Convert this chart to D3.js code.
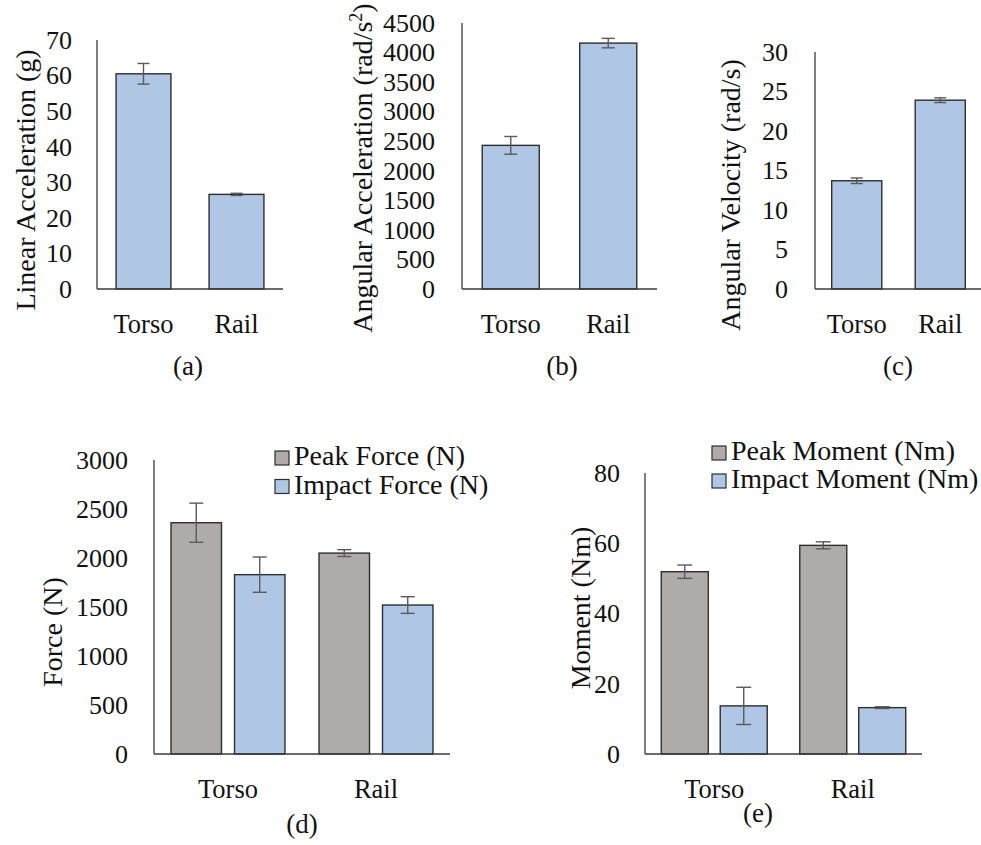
<!DOCTYPE html>
<html>
<head>
<meta charset="utf-8">
<script src="https://cdn.jsdelivr.net/npm/d3@7"></script>
<style>
  html, body { margin: 0; padding: 0; background: #fff; }
  svg { display: block; }
  text { font-family: "Liberation Serif", "Times New Roman", serif; fill: #111; }
</style>
</head>
<body>
<svg id="chart" width="981" height="845"></svg>
<script>
// ---- data ----
const categories = ["Torso", "Rail"];

const linearAcc = [60.5, 26.6];
const linearAccErr = [2.9, 0.3];

const angularAcc = [2430, 4160];
const angularAccErr = [150, 80];

const angularVel = [13.7, 23.9];
const angularVelErr = [0.35, 0.3];

const forceSeries = ["Peak Force (N)", "Impact Force (N)"];
const peakForce = [2360, 2050];
const peakForceErr = [200, 35];
const impactForce = [1830, 1520];
const impactForceErr = [180, 85];

const momentSeries = ["Peak Moment (Nm)", "Impact Moment (Nm)"];
const peakMoment = [51.9, 59.4];
const peakMomentErr = [1.9, 1.0];
const impactMoment = [13.7, 13.2];
const impactMomentErr = [5.3, 0.25];

const ticksA = [0, 10, 20, 30, 40, 50, 60, 70];
const ticksB = [0, 500, 1000, 1500, 2000, 2500, 3000, 3500, 4000, 4500];
const ticksC = [0, 5, 10, 15, 20, 25, 30];
const ticksD = [0, 500, 1000, 1500, 2000, 2500, 3000];
const ticksE = [0, 20, 40, 60, 80];

// ---- style ----
const BLUE = "#b0c6e5";
const GRAY = "#afabab";
const OUTLINE = "#2e2e2e";
const ERR = "#5a5a5a";
const AXIS = "#3a3a3a";
const SERIF = '"Liberation Serif", "Times New Roman", serif';

const svg = d3.select("#chart");

function drawPanel(cfg) {
  const g = svg.append("g");
  const y = d3.scaleLinear().domain([0, cfg.max]).range([cfg.base, cfg.top]);
  const x = d3.scaleBand().domain(categories).range([cfg.x0, cfg.x1])
    .paddingInner(cfg.pad).paddingOuter(cfg.pad / 2);

  // y axis: labels only, with plain spine
  const yAxis = d3.axisLeft(y).tickValues(cfg.ticks).tickFormat(d3.format("d"))
    .tickSize(0).tickPadding(cfg.tickPad);
  const ya = g.append("g").attr("transform", `translate(${cfg.x0},0)`).call(yAxis);
  ya.attr("font-family", null).attr("font-size", null);
  ya.select(".domain").remove();
  ya.selectAll("text").style("font-size", "26px")
    .style("font-family", SERIF).attr("fill", "#111");

  // x axis category labels
  const xAxis = d3.axisBottom(x).tickSize(0).tickPadding(0);
  const xa = g.append("g").attr("transform", `translate(0,${cfg.base})`).call(xAxis);
  xa.attr("font-family", null).attr("font-size", null);
  xa.select(".domain").remove();
  xa.selectAll("text").attr("y", cfg.labelBase - cfg.base).attr("dy", 0)
    .style("font-size", "26.5px").style("font-family", SERIF).attr("fill", "#111");

  // series (single or grouped)
  const series = cfg.series;
  const inner = d3.scaleBand().domain(series.map(s => s.name))
    .range([0, x.bandwidth()]).paddingInner(cfg.innerPad || 0).paddingOuter(0);

  series.forEach(s => {
    const bw = inner.bandwidth();
    const cx = c => x(c) + inner(s.name) + bw / 2;
    const gs = g.append("g");
    gs.selectAll("rect").data(categories).join("rect")
      .attr("x", (c) => x(c) + inner(s.name))
      .attr("y", (c, i) => y(s.values[i]))
      .attr("width", bw)
      .attr("height", (c, i) => y(0) - y(s.values[i]))
      .attr("fill", s.color)
      .attr("stroke", OUTLINE)
      .attr("stroke-width", 1.4);

    const cap = cfg.cap;
    const eb = gs.selectAll("g.err").data(categories).join("g").attr("class", "err");
    eb.append("line")
      .attr("x1", cx).attr("x2", cx)
      .attr("y1", (c, i) => y(s.values[i] + s.err[i]))
      .attr("y2", (c, i) => y(s.values[i] - s.err[i]));
    eb.append("line")
      .attr("x1", c => cx(c) - cap / 2).attr("x2", c => cx(c) + cap / 2)
      .attr("y1", (c, i) => y(s.values[i] + s.err[i]))
      .attr("y2", (c, i) => y(s.values[i] + s.err[i]));
    eb.append("line")
      .attr("x1", c => cx(c) - cap / 2).attr("x2", c => cx(c) + cap / 2)
      .attr("y1", (c, i) => y(s.values[i] - s.err[i]))
      .attr("y2", (c, i) => y(s.values[i] - s.err[i]));
    eb.selectAll("line").attr("stroke", ERR).attr("stroke-width", 1.4);
  });

  // spines
  g.append("line").attr("x1", cfg.x0).attr("x2", cfg.x0)
    .attr("y1", cfg.top).attr("y2", cfg.base)
    .attr("stroke", AXIS).attr("stroke-width", 1.3);
  g.append("line").attr("x1", cfg.x0).attr("x2", cfg.x1)
    .attr("y1", cfg.base).attr("y2", cfg.base)
    .attr("stroke", AXIS).attr("stroke-width", 1.3);

  // y title
  const t = g.append("text")
    .attr("transform", `translate(${cfg.titleX},${cfg.titleY}) rotate(-90)`)
    .attr("text-anchor", "middle").attr("dy", "0.35em")
    .style("font-size", "28px");
  if (cfg.titleSup) {
    t.append("tspan").text(cfg.title);
    t.append("tspan").attr("baseline-shift", "super").style("font-size", "18px").text(cfg.titleSup);
    t.append("tspan").text(")");
  } else {
    t.text(cfg.title);
  }

  // caption
  g.append("text").attr("x", cfg.capX).attr("y", cfg.capY)
    .attr("text-anchor", "middle").style("font-size", "27px").text(cfg.caption);

  // legend
  if (cfg.legend) {
    series.forEach((s, i) => {
      const ly = cfg.legend.y + i * cfg.legend.dy;
      g.append("rect").attr("x", cfg.legend.x).attr("y", ly - 14)
        .attr("width", 14).attr("height", 14)
        .attr("fill", s.color).attr("stroke", OUTLINE).attr("stroke-width", 1.2);
      g.append("text").attr("x", cfg.legend.x + 19).attr("y", ly)
        .style("font-size", "28px").text(s.name);
    });
  }
}

drawPanel({
  x0: 97, x1: 283, top: 40, base: 289, max: 70, ticks: ticksA, pad: 0.41,
  tickPad: 25, labelBase: 333, cap: 12,
  series: [{ name: "Linear", values: linearAcc, err: linearAccErr, color: BLUE }],
  title: "Linear Acceleration (g)", titleX: 25, titleY: 180,
  caption: "(a)", capX: 188, capY: 375
});

drawPanel({
  x0: 462, x1: 657, top: 23, base: 289, max: 4500, ticks: ticksB, pad: 0.415,
  tickPad: 27, labelBase: 333, cap: 13,
  series: [{ name: "Angular", values: angularAcc, err: angularAccErr, color: BLUE }],
  title: "Angular Acceleration (rad/s", titleSup: "2", titleX: 362, titleY: 168,
  caption: "(b)", capX: 562, capY: 375
});

drawPanel({
  x0: 815, x1: 982, top: 52, base: 289, max: 30, ticks: ticksC, pad: 0.40,
  tickPad: 27, labelBase: 333, cap: 12,
  series: [{ name: "Velocity", values: angularVel, err: angularVelErr, color: BLUE }],
  title: "Angular Velocity (rad/s)", titleX: 730, titleY: 195,
  caption: "(c)", capX: 898, capY: 375
});

drawPanel({
  x0: 154, x1: 450, top: 460, base: 754, max: 3000, ticks: ticksD, pad: 0.23, innerPad: 0.205,
  tickPad: 26, labelBase: 798, cap: 14,
  series: [
    { name: forceSeries[0], values: peakForce, err: peakForceErr, color: GRAY },
    { name: forceSeries[1], values: impactForce, err: impactForceErr, color: BLUE }
  ],
  title: "Force (N)", titleX: 52, titleY: 632,
  caption: "(d)", capX: 302, capY: 833,
  legend: { x: 275, y: 465, dy: 28.5 }
});

drawPanel({
  x0: 645, x1: 922, top: 473, base: 754, max: 80, ticks: ticksE, pad: 0.235, innerPad: 0.203,
  tickPad: 25, labelBase: 798, cap: 15,
  series: [
    { name: momentSeries[0], values: peakMoment, err: peakMomentErr, color: GRAY },
    { name: momentSeries[1], values: impactMoment, err: impactMomentErr, color: BLUE }
  ],
  title: "Moment (Nm)", titleX: 580, titleY: 608,
  caption: "(e)", capX: 758, capY: 822,
  legend: { x: 712, y: 460, dy: 28 }
});
</script>
</body>
</html>
